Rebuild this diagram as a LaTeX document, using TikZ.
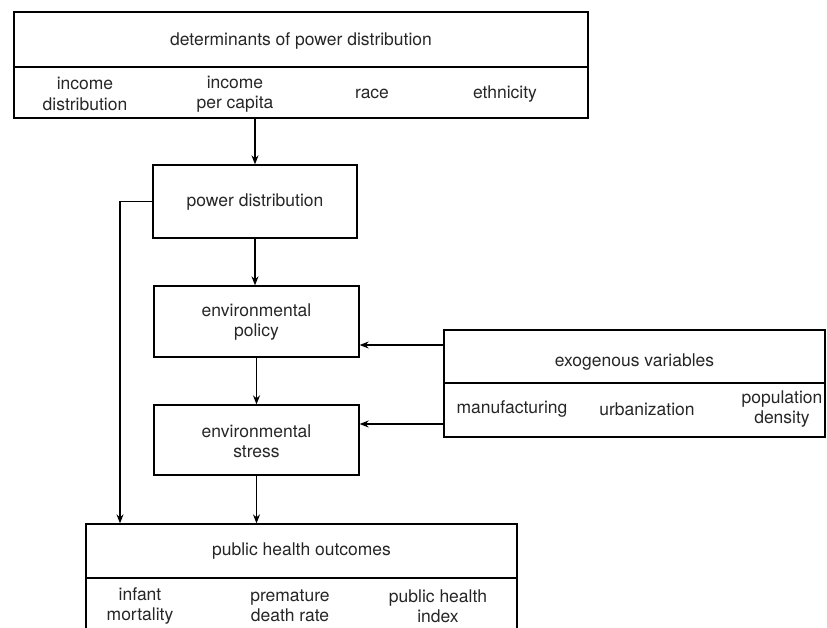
\documentclass[tikz,border=0pt]{standalone}
\usepackage{fontspec}
\setmainfont{TeX Gyre Heros}
\usetikzlibrary{arrows.meta}
\begin{document}
\begin{tikzpicture}[x=1pt,y=-1pt,
  every node/.style={font=\fontsize{17.5}{20.5}\selectfont, inner sep=0pt, align=center},
  box/.style={draw, line width=1.3pt, rectangle},
  lbl/.style={text=black!85},
  divider/.style={line width=1.3pt},
  conn/.style={line width=1.3pt},
  arr/.style={conn, -{Stealth[length=9pt,width=7pt]}}]
\useasboundingbox (0,0) rectangle (827,627);
\clip (0,0) rectangle (827,627);

% top box
\node[box, minimum width=574pt, minimum height=106pt] (det) at (301,65) {};
\draw[divider] (det.west |- 0,67) -- (det.east |- 0,67);
\node[lbl] (detT) at (301,41) {determinants of power distribution};
\node[lbl] (d1) at (85,94) {income\\distribution};
\node[lbl] (d2) at (235,94) {income\\per capita};
\node[lbl] (d3) at (372,94) {race};
\node[lbl] (d4) at (505,94) {ethnicity};

% chain
\node[box, minimum width=204pt, minimum height=73pt] (pow) at (255,201.5) {};
\node[lbl] (powT) at (255,202) {power distribution};
\node[box, minimum width=205pt, minimum height=71pt] (pol) at (256.5,321.5) {};
\node[lbl] (polT) at (256.5,322) {environmental\\policy};
\node[box, minimum width=205pt, minimum height=70pt] (str) at (256.5,440) {};
\node[lbl] (strT) at (256.5,441) {environmental\\stress};

% exogenous
\node[box, minimum width=381pt, minimum height=107pt] (exo) at (634.5,383.5) {};
\draw[divider] (exo.west |- 0,383) -- (exo.east |- 0,383);
\node[lbl] (exoT) at (634.5,362) {exogenous variables};
\node[lbl] (e1) at (512,409) {manufacturing};
\node[lbl] (e2) at (647,409) {urbanization};
\node[lbl] (e3) at (782,409) {population\\density};

% public health
\node[box, minimum width=431pt, minimum height=116pt] (pub) at (301.5,582) {};
\draw[divider] (pub.west |- 0,578) -- (pub.east |- 0,578);
\node[lbl] (pubT) at (301.5,551) {public health outcomes};
\node[lbl] (p1) at (140,606) {infant\\mortality};
\node[lbl] (p2) at (290,606) {premature\\death rate};
\node[lbl] (p3) at (438,606) {public health\\index};

% connectors
\draw[arr] (pow.north |- det.south) -- (pow.north);
\draw[arr] (pow.south) -- (pol.north -| pow.south);
\draw[arr] (pol.south) -- (str.north);
\draw[arr] (str.south) -- (pub.north -| str.south);
\coordinate (fb) at (120,201.5);
\draw[arr] (pow.west) -- (fb) -- (fb |- pub.north);
\coordinate (ea) at (444,345);
\coordinate (eb) at (444,424);
\draw[arr] (ea) -- (pol.east |- ea);
\draw[arr] (eb) -- (str.east |- eb);
\end{tikzpicture}
\end{document}
